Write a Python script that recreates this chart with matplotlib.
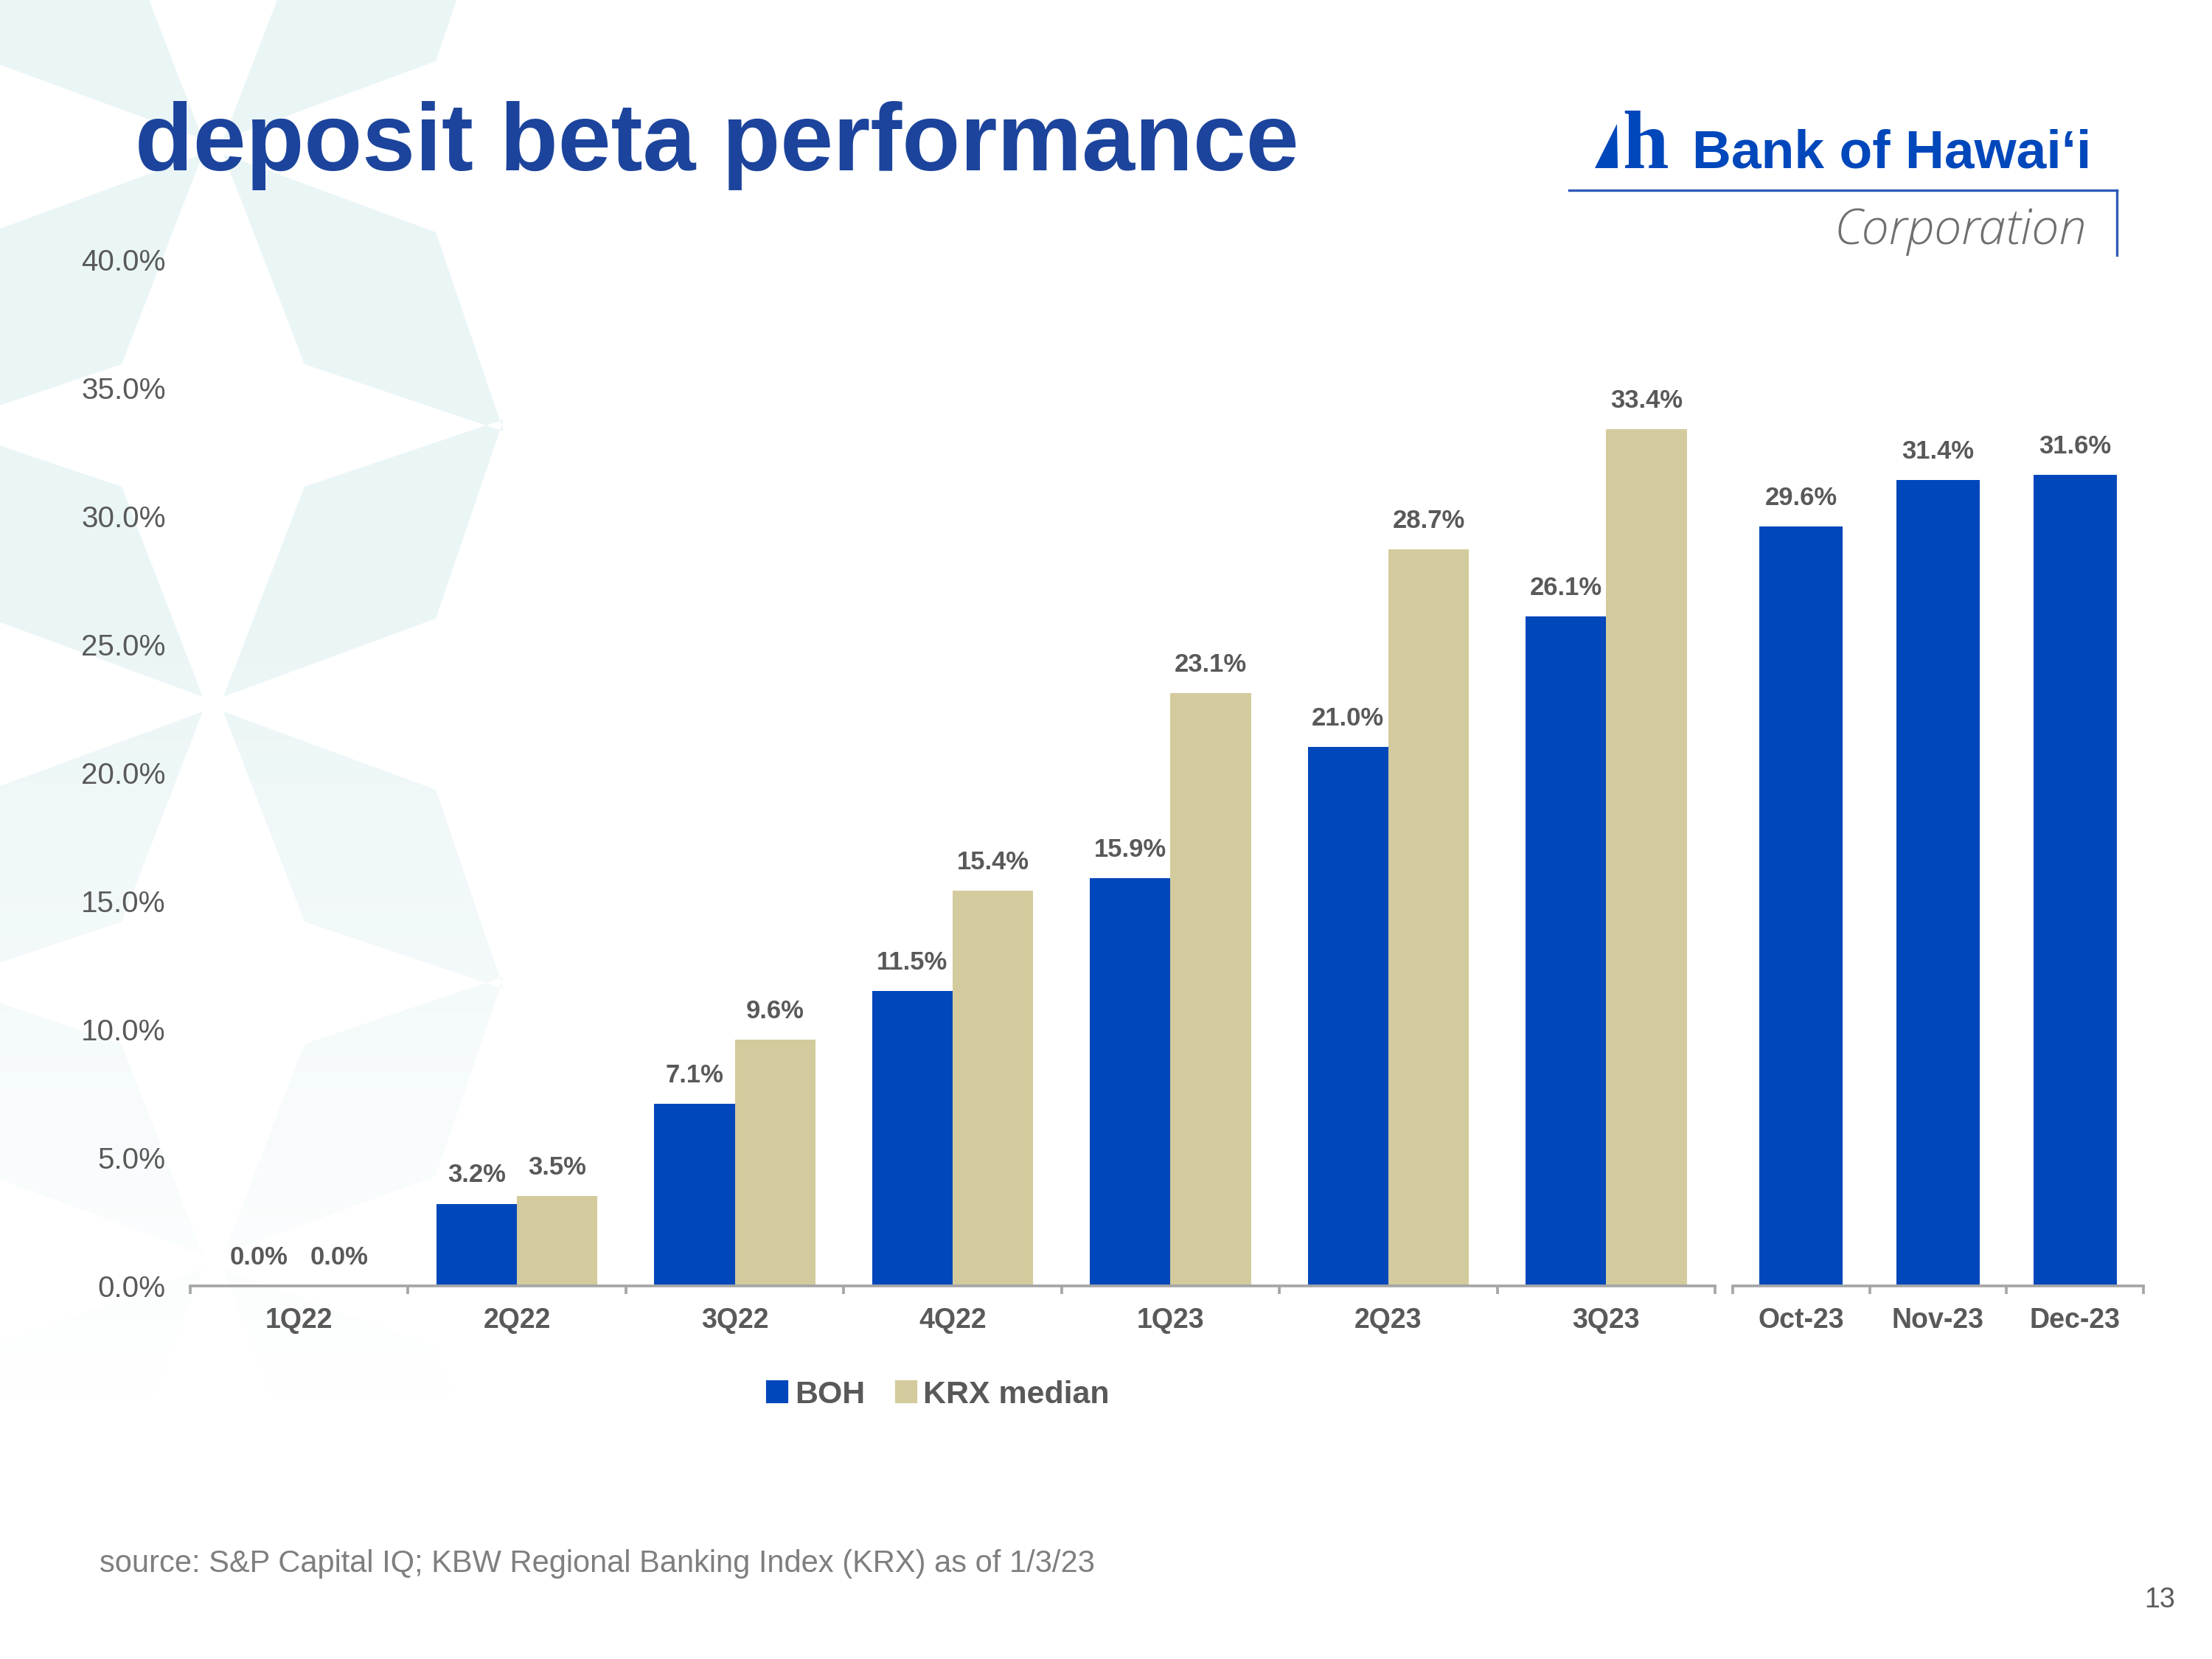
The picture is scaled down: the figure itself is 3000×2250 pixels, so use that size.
import numpy as np
import matplotlib; matplotlib.use("Agg")
import matplotlib.pyplot as plt
from matplotlib.patches import Patch, PathPatch, Polygon
from matplotlib.path import Path
from matplotlib.lines import Line2D

plt.rcParams["font.family"] = ["Liberation Sans", "DejaVu Sans"]

# --- data ---
quarters = ["1Q22", "2Q22", "3Q22", "4Q22", "1Q23", "2Q23", "3Q23"]
boh_q = [0.0, 3.2, 7.1, 11.5, 15.9, 21.0, 26.1]
krx_q = [0.0, 3.5, 9.6, 15.4, 23.1, 28.7, 33.4]
months = ["Oct-23", "Nov-23", "Dec-23"]
boh_m = [29.6, 31.4, 31.6]
yticks = [0, 5, 10, 15, 20, 25, 30, 35, 40]

BLUE, TAN, GRAY, AXC = "#0047BB", "#D3CB9D", "#595959", "#A6A6A6"
W, H = 3000, 2250
fig = plt.figure(figsize=(10, 7.5), dpi=300)
fx = lambda x: x / W
fy = lambda y: 1 - y / H

# --- background star pattern (pixel coords) ---
bg = fig.add_axes([0, 0, 1, 1], zorder=-10)
bg.set_xlim(0, W); bg.set_ylim(H, 0); bg.axis("off")
polys = []
for cy in [199, 955, 1711]:
    cx = 289
    for sx in (1, -1):
        for sy in (1, -1):
            dx, dy = sx * 14, sy * 10
            pts = [(cx + dx, cy + dy), (cx + sx * 110 + dx, cy + sy * 285 + dy),
                   (cx + sx * 380 + dx, cy + sy * 376 + dy), (cx + sx * 288 + dx, cy + sy * 106 + dy)]
            polys.append(Path(pts + [pts[0]], closed=True))
clip = PathPatch(Path.make_compound_path(*polys), transform=bg.transData, fc="none", ec="none")
bg.add_patch(clip)
yy = np.linspace(0, H, 226)[:, None] * np.ones((1, 301))
grad = np.zeros((226, 301, 4))
grad[..., 0], grad[..., 1], grad[..., 2] = 0.918, 0.963, 0.968
grad[..., 3] = np.clip((1900 - yy) / 1100, 0, 1)
im = bg.imshow(grad, extent=(0, W, H, 0), interpolation="bilinear", aspect="auto")
im.set_clip_path(clip)

# --- title + logo ---
fig.text(fx(183), fy(231), "deposit beta performance", fontsize=31, weight="bold",
         color="#1C449C", va="baseline")
bg.add_patch(Polygon([(2163, 228), (2194, 228), (2193, 168)], closed=True, fc=BLUE, ec="none"))
fig.text(fx(2200), fy(228), "h", fontsize=27, weight="bold", color=BLUE, va="baseline",
         family="Liberation Serif")
fig.text(fx(2836), fy(227), "Bank of Hawai\u2018i", fontsize=17.6, weight="bold", color=BLUE,
         va="baseline", ha="right")
fig.add_artist(Line2D([fx(2128), fx(2871)], [fy(258), fy(258)], color="#2E5BB8", lw=0.8))
fig.add_artist(Line2D([fx(2871), fx(2871)], [fy(258), fy(346)], color="#2E5BB8", lw=0.8))
fig.text(fx(2830), fy(331), "Corporation", fontsize=16, style="italic", weight="light",
         color="#6D6F71", va="baseline", ha="right", family="Open Sans")


def style_axis(ax, n):
    ax.set_facecolor("none")
    for s in ["top", "right", "left"]:
        ax.spines[s].set_visible(False)
    ax.spines["bottom"].set_color(AXC); ax.spines["bottom"].set_linewidth(0.9)
    ax.set_xlim(0, n); ax.set_ylim(0, 40)
    ax.set_xticks(np.arange(n + 1)); ax.set_xticklabels([])
    ax.tick_params(axis="x", which="major", length=2.6, width=0.9, color=AXC, direction="out")
    ax.set_xticks(np.arange(n) + 0.5, minor=True)
    ax.tick_params(axis="x", which="minor", length=0, pad=7, labelsize=9, labelcolor=GRAY)


def label_bars(ax, bars, vals):
    for b, v in zip(bars, vals):
        ax.annotate(f"{v:.1f}%", (b.get_x() + b.get_width() / 2, v), xytext=(0, 7),
                    textcoords="offset points", ha="center", va="baseline",
                    fontsize=8.3, weight="bold", color=GRAY)


bottom, top = fy(1744), fy(352)
# quarterly panel
ax = fig.add_axes([fx(258), bottom, fx(2326) - fx(258), top - bottom])
style_axis(ax, len(quarters))
x = np.arange(len(quarters)) + 0.5
b1 = ax.bar(x - 0.185, boh_q, 0.37, color=BLUE)
b2 = ax.bar(x + 0.185, krx_q, 0.37, color=TAN)
label_bars(ax, b1, boh_q); label_bars(ax, b2, krx_q)
ax.set_xticklabels(quarters, minor=True, weight="bold")
ax.set_yticks(yticks)
ax.set_yticklabels([f"{v:.1f}%" for v in yticks], fontsize=9.7, color=GRAY)
ax.tick_params(axis="y", length=0, pad=8)

# monthly panel
ax2 = fig.add_axes([fx(2350), bottom, fx(2907) - fx(2350), top - bottom])
style_axis(ax2, len(months))
b3 = ax2.bar(np.arange(len(months)) + 0.5, boh_m, 0.61, color=BLUE)
label_bars(ax2, b3, boh_m)
ax2.set_xticklabels(months, minor=True, weight="bold")
ax2.set_yticks([])

fig.legend(handles=[Patch(color=BLUE, label="BOH"), Patch(color=TAN, label="KRX median")],
           loc="center", bbox_to_anchor=(fx(1273), fy(1892)), ncol=2, frameon=False,
           handlelength=0.6, handleheight=0.6, handletextpad=0.25, columnspacing=1.0,
           prop={"weight": "bold", "size": 10.3}, labelcolor=GRAY)

fig.text(fx(135), fy(2132), "source: S&P Capital IQ; KBW Regional Banking Index (KRX) as of 1/3/23",
         fontsize=10, color="#7F7F7F", va="baseline")
fig.text(fx(2950), fy(2180), "13", fontsize=9, color=GRAY, va="baseline", ha="right")

fig.savefig("out.png", dpi=300)
